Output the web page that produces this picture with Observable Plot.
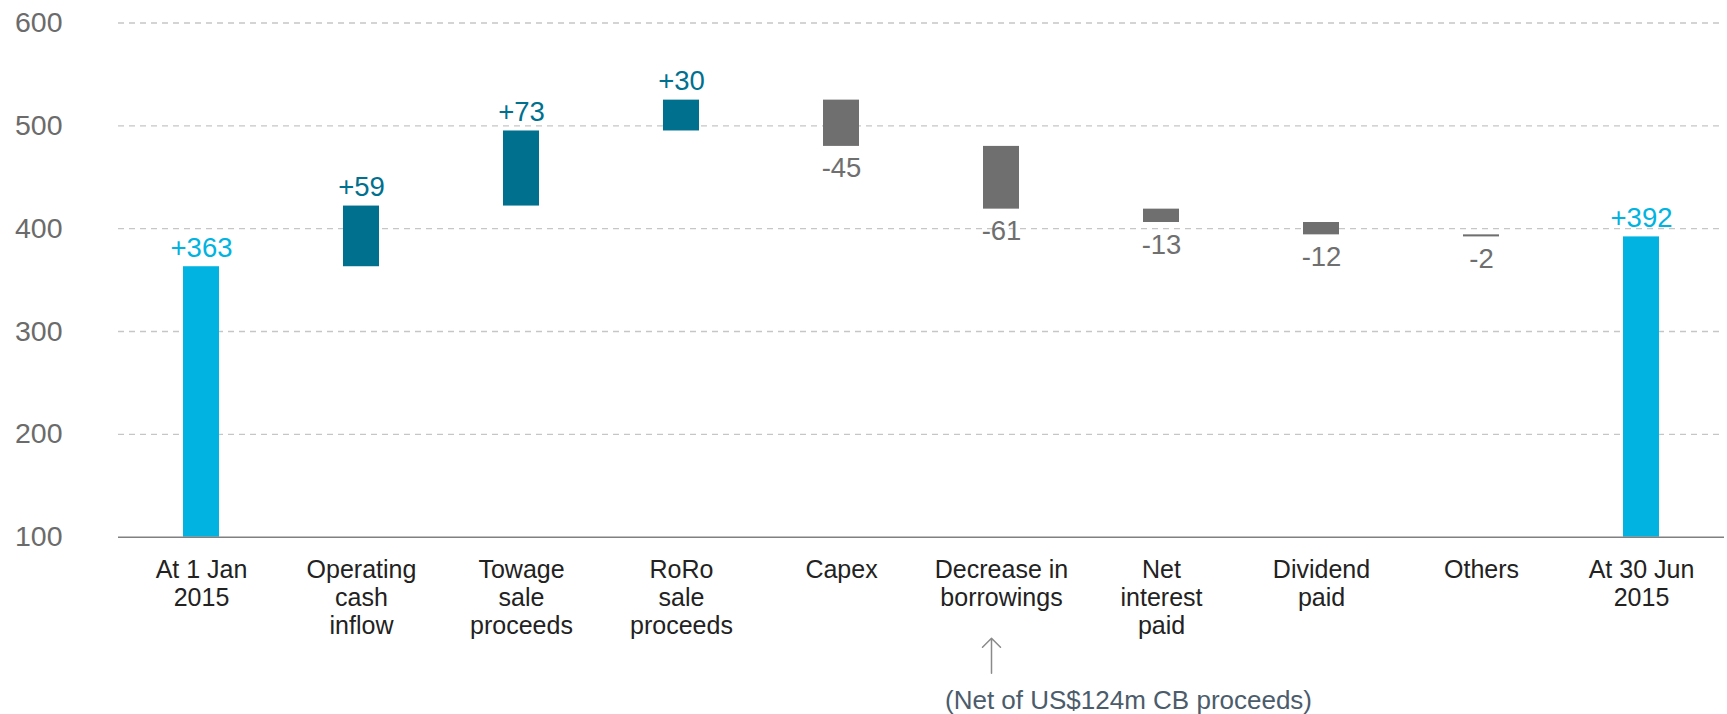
<!DOCTYPE html>
<html><head><meta charset="utf-8">
<script src="https://cdn.jsdelivr.net/npm/d3@7"></script>
<script src="https://cdn.jsdelivr.net/npm/@observablehq/plot@0.6"></script>
<style>body{margin:0;background:#fff;}</style>
</head><body><div id="chart"></div>
<script>
const categories = [
  "At 1 Jan\n2015",
  "Operating\ncash\ninflow",
  "Towage\nsale\nproceeds",
  "RoRo\nsale\nproceeds",
  "Capex",
  "Decrease in\nborrowings",
  "Net\ninterest\npaid",
  "Dividend\npaid",
  "Others",
  "At 30 Jun\n2015"
];
const values = [363, 59, 73, 30, -45, -61, -13, -12, -2, 392];
const kinds = ["total", "increase", "increase", "increase", "decrease", "decrease", "decrease", "decrease", "decrease", "total"];
const yTicks = [100, 200, 300, 400, 500, 600];
const gridTicks = [200, 300, 400, 500, 600];
const baseValue = 100;
const noteCategory = "Decrease in\nborrowings";
const noteText = "(Net of US$124m CB proceeds)";
const kindDomain = ["total", "increase", "decrease"];
const kindColors = ["#00b3e0", "#00708f", "#6f6f6f"];

let running = 0;
const rows = categories.map((c, i) => {
  const k = kinds[i], v = values[i];
  let lo, hi;
  if (k === "total") { lo = baseValue; hi = v; running = v; }
  else { const s = running; running += v; lo = Math.min(s, running); hi = Math.max(s, running); }
  return {category: c, kind: k, value: v, lo, hi, label: (v > 0 ? "+" : "") + v};
});

const chart = Plot.plot({
  width: 1727, height: 714,
  marginTop: 22.5, marginBottom: 177.3, marginLeft: 118, marginRight: 3,
  style: {fontFamily: "'Liberation Sans', Arial, sans-serif", background: "#fff", overflow: "visible"},
  x: {domain: categories, paddingInner: 0.776, paddingOuter: 0.388, axis: null},
  y: {domain: [100, 600], axis: null},
  color: {domain: kindDomain, range: kindColors},
  marks: [
    Plot.ruleY(gridTicks, {stroke: "#c6c6c6", strokeWidth: 1.3, strokeDasharray: "6,5"}),
    Plot.barY(rows, {x: "category", y1: "lo", y2: "hi", fill: "kind"}),
    Plot.ruleY([baseValue], {stroke: "#808080", strokeWidth: 1.6}),
    Plot.axisY(yTicks, {tickSize: 0, tickPadding: 56, fontSize: 28.5, fill: "#6b6b6b", label: null}),
    Plot.axisX({tickSize: 0, tickPadding: 20.5, fontSize: 25, fill: "#222", lineHeight: 28 / 25, label: null}),
    Plot.text(rows.filter(d => d.value > 0), {x: "category", y: "hi", text: "label", dy: -18.8, fill: "kind", fontSize: 27.5, lineAnchor: "middle"}),
    Plot.text(rows.filter(d => d.value < 0), {x: "category", y: "lo", text: "label", dy: 22.2, fill: "kind", fontSize: 27.5, lineAnchor: "middle"}),
    Plot.vector([noteCategory], {x: d => d, frameAnchor: "bottom", length: 35, rotate: 0, anchor: "start", shape: "arrow", r: 4.5, dx: -10, dy: 136, stroke: "#8a8a8a", strokeWidth: 1.5}),
    Plot.text([noteText], {x: () => noteCategory, text: d => d, frameAnchor: "bottom", lineAnchor: "middle", dx: 127, dy: 163, fontSize: 26, fill: "#4b5c6b"})
  ]
});
document.getElementById("chart").appendChild(chart);
</script>
</body></html>
